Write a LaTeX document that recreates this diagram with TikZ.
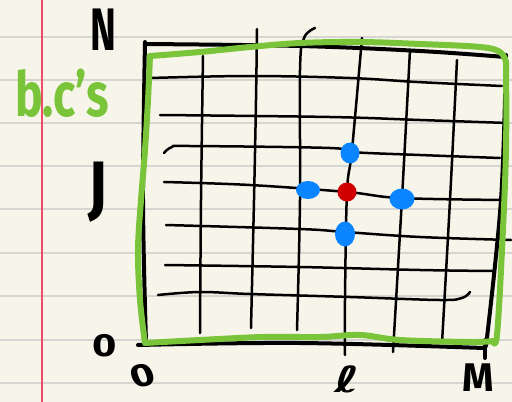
\documentclass[tikz,border=0pt]{standalone}
\usepackage{fontspec}
\setmainfont{Fira Sans}
\newfontfamily\symfont{DejaVu Sans}
\usetikzlibrary{shapes.geometric}
\definecolor{paper}{HTML}{F7F5EA}
\definecolor{ruled}{HTML}{D5D5D2}
\definecolor{margin}{HTML}{EE4A6A}
\definecolor{bcgreen}{HTML}{7AC43A}
\definecolor{dotblue}{HTML}{0A84FF}
\definecolor{dotred}{HTML}{D10000}
\tikzset{
 ruleline/.style={ruled, line width=1.6pt},
 gridline/.style={black, line width=2.5pt, line cap=round, line join=round},
 boxline/.style={black, line width=4pt, line cap=round, line join=round},
 greenline/.style={bcgreen, line width=6pt, line cap=round, line join=round},
 bluedot/.style={ellipse, fill=dotblue, inner sep=0pt},
 reddot/.style={ellipse, fill=dotred, inner sep=0pt},
 hand/.style={inner sep=0pt, text=black},
}
\begin{document}
\begin{tikzpicture}[x=1pt,y=-1pt]
\fill[paper] (0,0) rectangle (512,402);
\useasboundingbox (0,0) rectangle (512,402);
\foreach \yy in {37,80,123,166,209,253,296,340,383} \draw[ruleline] (0,\yy) -- (512,\yy);
\draw[margin, line width=1.2pt] (42,0) -- (42,402);

% vertical grid lines
\draw[gridline] plot[smooth, tension=0.6] coordinates {(203,56) (201,200) (200,333)};
\draw[gridline] plot[smooth, tension=0.6] coordinates {(257,29) (256,100) (254,200) (251,328)};
\draw[gridline] plot[smooth, tension=0.6] coordinates {(315,28) (304,38) (300,70) (300,200) (297,330)};
\draw[gridline] plot[smooth, tension=0.6] coordinates {(362,38) (352,150) (347,192) (345,300) (345,355)};
\draw[gridline] plot[smooth, tension=0.6] coordinates {(410,50) (402,198) (393,352)};
\draw[gridline] plot[smooth, tension=0.6] coordinates {(457,60) (450,200) (442,343)};

% horizontal grid lines
\draw[gridline] plot[smooth, tension=0.6] coordinates {(150,78) (250,76) (350,78) (417,82) (502,86)};
\draw[gridline] plot[smooth, tension=0.6] coordinates {(160,115) (330,117) (420,120) (508,123)};
\draw[gridline] plot[smooth, tension=0.6] coordinates {(164,153) (172,147) (190,146) (330,148) (350,152) (420,155) (500,158)};
\draw[gridline] plot[smooth, tension=0.6] coordinates {(164,182) (250,185) (347,192) (400,198) (505,200)};
\draw[gridline] plot[smooth, tension=0.6] coordinates {(166,225) (300,229) (345,232) (420,237) (511,240)};
\draw[gridline] plot[smooth, tension=0.6] coordinates {(165,265) (300,267) (420,270) (493,271)};
\draw[gridline] plot[smooth, tension=0.6] coordinates {(158,295) (200,292) (250,294) (350,297) (440,300) (462,298) (470,292)};

% black box
\draw[boxline] plot[smooth, tension=0.6] coordinates {(145,44) (300,46) (420,51) (505,57)};
\draw[boxline] plot[smooth, tension=0.6] coordinates {(145,42) (143,200) (146,342)};
\draw[boxline] plot[smooth, tension=0.6] coordinates {(506,55) (501,200) (486,346)};
\draw[boxline] plot[smooth, tension=0.6] coordinates {(138,345) (300,343) (484,348)};
\draw[boxline] (485,340) -- (485,358);

% green box
\draw[greenline] plot[smooth, tension=0.6] coordinates {(150,56) (200,52) (250,47) (300,43) (360,42) (420,44) (480,47) (500,52) (506,62)};
\draw[greenline] plot[smooth, tension=0.6] coordinates {(506,62) (506,150) (502,250) (497,335) (493,341)};
\draw[greenline] plot[smooth, tension=0.6] coordinates {(493,341) (470,342) (400,340) (360,335) (320,337) (263,337) (200,340) (145,343)};
\draw[greenline] plot[smooth, tension=0.6] coordinates {(145,343) (140,300) (138,250) (141,200) (145,150) (148,100) (150,56)};

% stencil points
\node[bluedot, minimum width=19pt, minimum height=21pt] (top) at (350,153) {};
\node[bluedot, minimum width=24pt, minimum height=18pt] (left) at (308,190) {};
\node[reddot, minimum width=19pt, minimum height=19pt] (center) at (347,192) {};
\node[bluedot, minimum width=25pt, minimum height=21pt] (right) at (402,199) {};
\node[bluedot, minimum width=20pt, minimum height=25pt] (bottom) at (345,234) {};

% labels
\node[hand, font=\fontsize{60}{62}\selectfont\bfseries, xscale=0.65] (N) at (103,30) {N};
\node[hand, text=bcgreen, font=\fontsize{62}{64}\selectfont\bfseries, xscale=0.75] (bcs) at (62,93) {b.c's};
\node[hand, font=\fontsize{70}{72}\selectfont\bfseries, xscale=0.85] (J) at (98,192) {J};
\node[hand, font=\fontsize{32}{34}\selectfont\bfseries, xscale=1.3] (zeroy) at (105,346) {0};
\node[hand, font=\fontsize{32}{34}\selectfont\bfseries, xscale=1.3, rotate=15] (zerox) at (143,376) {0};
\node[hand, font=\fontsize{36}{40}\symfont\bfseries, xscale=1.5] (ell) at (347,379) {ℓ};
\node[hand, font=\fontsize{40}{42}\selectfont\bfseries] (M) at (478,378) {M};
\end{tikzpicture}
\end{document}
